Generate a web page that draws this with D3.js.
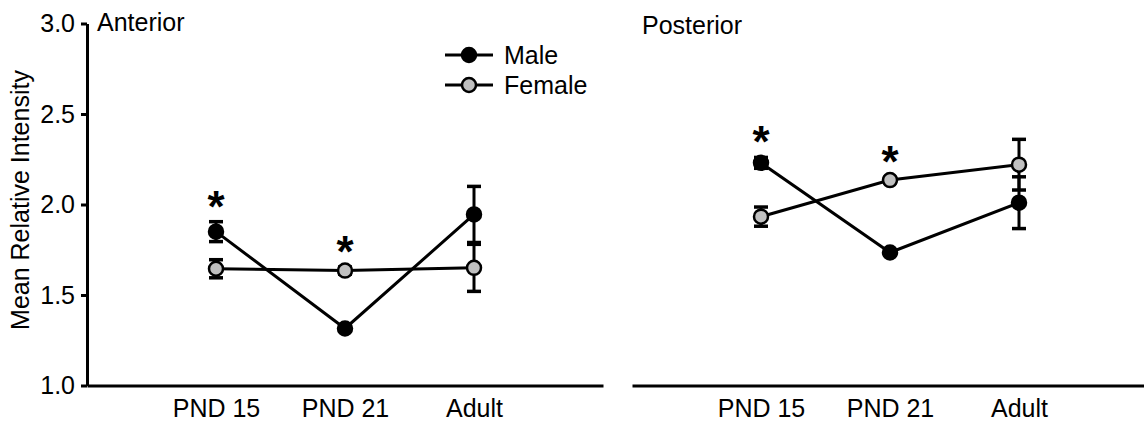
<!DOCTYPE html>
<html>
<head>
<meta charset="utf-8">
<script src="https://cdn.jsdelivr.net/npm/d3@7"></script>
<style>
    body { margin: 0; background: #fff; }
    text { font-family: "Liberation Sans", Arial, sans-serif; fill: #000; }
</style>
</head>
<body>
<script>
//////////////////////////////////////////////////////////////////////////////
// #region Data
//

var categories = ["PND 15", "PND 21", "Adult"];
var yTicks = [1.0, 1.5, 2.0, 2.5, 3.0];
var seriesNames = ["Male", "Female"];

// Anterior
var anteriorMale = [1.85, 1.315, 1.945];
var anteriorMaleErr = [0.055, 0.012, 0.155];
var anteriorFemale = [1.645, 1.635, 1.65];
var anteriorFemaleErr = [0.05, 0.02, 0.13];
var anteriorStars = [true, true, false];

// Posterior
var posteriorMale = [2.23, 1.735, 2.01];
var posteriorMaleErr = [0.03, 0.012, 0.143];
var posteriorFemale = [1.933, 2.135, 2.22];
var posteriorFemaleErr = [0.053, 0.015, 0.14];
var posteriorStars = [true, true, false];

//
// #endregion Data
//////////////////////////////////////////////////////////////////////////////

var width = 1144, height = 425;
var fill = { Male: "#000", Female: "#c0c0c0" };

var svg = d3.select("body").append("svg")
    .attr("width", width)
    .attr("height", height);

var y = d3.scaleLinear().domain([1, 3]).range([385.5, 23.5]);

function drawPanel(title, titleX, titleY, x0, x1, male, maleErr, female, femaleErr, stars, showY)
{
    var g = svg.append("g");

    var x = d3.scalePoint()
        .domain(categories)
        .range([x0, x1])
        .padding(1);

    // bottom axis line, no ticks
    var xAxis = g.append("g")
        .attr("transform", "translate(0," + y(1) + ")")
        .call(d3.axisBottom(x).tickSize(0).tickSizeOuter(0).tickPadding(14));
    xAxis.select(".domain").attr("stroke-width", 3);
    xAxis.selectAll("text").attr("font-size", 25);

    if (showY) {
        var yAxis = g.append("g")
            .attr("transform", "translate(" + x0 + ",0)")
            .call(d3.axisLeft(y).tickValues(yTicks).tickFormat(d3.format(".1f"))
                .tickSize(6).tickSizeOuter(0).tickPadding(6));
        yAxis.select(".domain").attr("stroke-width", 3);
        yAxis.selectAll(".tick line").attr("stroke-width", 3);
        yAxis.selectAll("text").attr("font-size", 25);
    }

    g.append("text")
        .attr("x", titleX)
        .attr("y", titleY)
        .attr("font-size", 25)
        .text(title);

    var series = [
        { name: "Male", v: male, e: maleErr },
        { name: "Female", v: female, e: femaleErr }
    ];

    // error bars first
    series.forEach(function(s) {
        var eb = g.append("g").attr("stroke", "#000").attr("stroke-width", 3);
        categories.forEach(function(c, i) {
            var cx = x(c), top = y(s.v[i] + s.e[i]), bot = y(s.v[i] - s.e[i]);
            eb.append("line").attr("x1", cx).attr("x2", cx).attr("y1", top).attr("y2", bot);
            eb.append("line").attr("x1", cx - 7).attr("x2", cx + 7).attr("y1", top).attr("y2", top).attr("stroke-width", 3.5);
            eb.append("line").attr("x1", cx - 7).attr("x2", cx + 7).attr("y1", bot).attr("y2", bot).attr("stroke-width", 3.5);
        });
    });

    var line = d3.line()
        .x(function(d, i) { return x(categories[i]); })
        .y(function(d) { return y(d); });

    series.forEach(function(s) {
        g.append("path")
            .attr("d", line(s.v))
            .attr("fill", "none")
            .attr("stroke", "#000")
            .attr("stroke-width", 3);
    });

    series.forEach(function(s) {
        g.selectAll(null)
            .data(s.v)
            .enter().append("circle")
            .attr("cx", function(d, i) { return x(categories[i]); })
            .attr("cy", function(d) { return y(d); })
            .attr("r", 7)
            .attr("fill", fill[s.name])
            .attr("stroke", "#000")
            .attr("stroke-width", 2.5);
    });

    // significance stars above the highest error bar
    var fs = 44;
    categories.forEach(function(c, i) {
        if (!stars[i]) return;
        var top = Math.max(male[i] + maleErr[i], female[i] + femaleErr[i]);
        g.append("text")
            .attr("x", x(c))
            .attr("y", y(top) - 25.5 + 0.58 * fs)
            .attr("text-anchor", "middle")
            .attr("font-size", fs)
            .attr("font-weight", "bold")
            .text("*");
    });
}

drawPanel("Anterior", 97, 31, 87, 603,
    anteriorMale, anteriorMaleErr, anteriorFemale, anteriorFemaleErr, anteriorStars, true);
drawPanel("Posterior", 642, 34, 632, 1148,
    posteriorMale, posteriorMaleErr, posteriorFemale, posteriorFemaleErr, posteriorStars, false);

// y axis title
svg.append("text")
    .attr("transform", "translate(29,200) rotate(-90)")
    .attr("text-anchor", "middle")
    .attr("font-size", 25)
    .text("Mean Relative Intensity");

// legend
var legend = svg.append("g");
seriesNames.forEach(function(name, i) {
    var ly = 55 + i * 30;
    legend.append("line")
        .attr("x1", 445).attr("x2", 493)
        .attr("y1", ly).attr("y2", ly)
        .attr("stroke", "#000").attr("stroke-width", 3);
    legend.append("circle")
        .attr("cx", 469).attr("cy", ly).attr("r", 7)
        .attr("fill", fill[name]).attr("stroke", "#000").attr("stroke-width", 2.5);
    legend.append("text")
        .attr("x", 504).attr("y", ly + 8.5)
        .attr("font-size", 25)
        .text(name);
});
</script>
</body>
</html>
